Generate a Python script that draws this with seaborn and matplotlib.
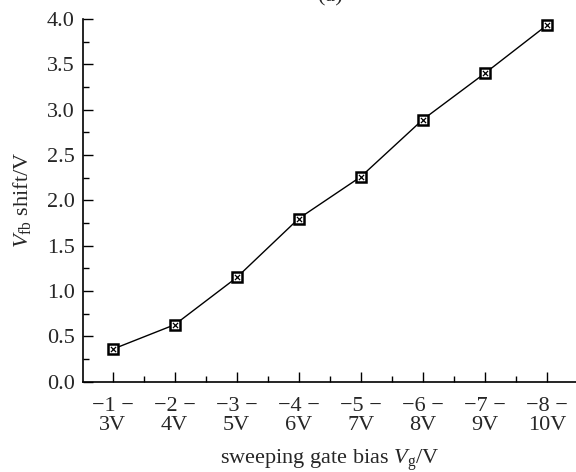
import matplotlib
matplotlib.use("Agg")
import matplotlib.pyplot as plt
import seaborn as sns
import pandas as pd
from matplotlib.ticker import MultipleLocator, FixedLocator

# Sweep ranges of the gate bias and the measured flat-band voltage shift
sweep_labels = ["\u22121 \u2212\n3V", "\u22122 \u2212\n4V", "\u22123 \u2212\n5V", "\u22124 \u2212\n6V",
                "\u22125 \u2212\n7V", "\u22126 \u2212\n8V", "\u22127 \u2212\n9V", "\u22128 \u2212\n10V"]
vfb_shift = [0.36, 0.63, 1.15, 1.80, 2.26, 2.89, 3.40, 3.93]
y_ticks = [0.0, 0.5, 1.0, 1.5, 2.0, 2.5, 3.0, 3.5, 4.0]

sns.set_theme(style="ticks")
plt.rcParams["font.family"] = ["Liberation Serif", "DejaVu Serif"]
plt.rcParams["mathtext.fontset"] = "custom"
plt.rcParams["mathtext.rm"] = "Liberation Serif"
plt.rcParams["mathtext.it"] = "Liberation Serif:italic"

FS = 16

df = pd.DataFrame({"pos": range(len(sweep_labels)), "shift": vfb_shift})

fig = plt.figure(figsize=(5.76, 4.72), dpi=100)
ax = fig.add_axes([0.144, 0.191, 0.856, 0.769])

sns.lineplot(data=df, x="pos", y="shift", ax=ax, color="black", linewidth=1.0,
             marker="s", markersize=7.5, markerfacecolor="white",
             markeredgecolor="black", markeredgewidth=1.8)
sns.scatterplot(data=df, x="pos", y="shift", ax=ax, marker="x", s=14,
                color="black", linewidth=0.9, zorder=5)

ax.set_xlim(-0.48, 7.47)
ax.set_ylim(0.0, 4.0)
ax.xaxis.set_major_locator(FixedLocator(list(range(len(sweep_labels)))))
ax.set_xticklabels(sweep_labels, fontsize=FS, linespacing=1.0)
ax.xaxis.set_minor_locator(MultipleLocator(1.0, offset=0.5))
ax.yaxis.set_major_locator(FixedLocator(y_ticks))
ax.set_yticklabels([f"{v:.1f}" for v in y_ticks], fontsize=FS)
ax.yaxis.set_minor_locator(MultipleLocator(0.25))

ax.tick_params(which="major", direction="in", length=7, width=1.0, color="black")
ax.tick_params(axis="x", which="major", pad=11)
ax.tick_params(axis="y", which="major", pad=6)
ax.tick_params(which="minor", direction="in", length=4, width=1.0, color="black")

for side in ("top", "right"):
    ax.spines[side].set_visible(False)
for side in ("left", "bottom"):
    ax.spines[side].set_linewidth(1.2)
    ax.spines[side].set_color("black")

ax.set_xlabel("sweeping gate bias $V_{\\rm g}$/V", fontsize=FS, labelpad=9)
ax.set_ylabel("$V_{\\rm fb}$ shift/V", fontsize=FS, labelpad=10)

fig.text(0.573, 0.997, "(a)", fontsize=FS, ha="center", va="baseline")

fig.savefig("out.png", dpi=100)
